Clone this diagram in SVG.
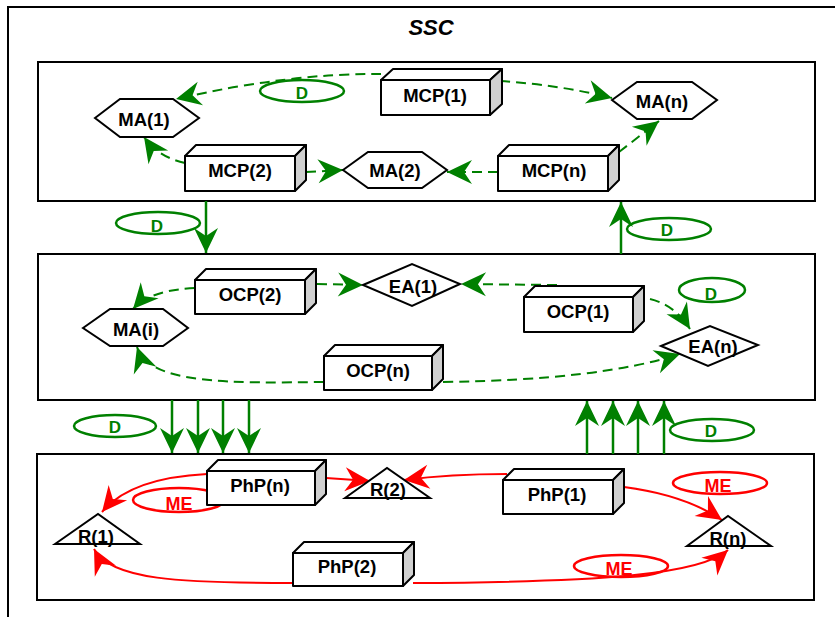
<svg xmlns="http://www.w3.org/2000/svg" width="835" height="617" viewBox="0 0 835 617">
<style>
.frame{fill:none;stroke:#000;stroke-width:2}
.face{fill:#fff;stroke:#000;stroke-width:2;stroke-linejoin:round}
.side{fill:#d0d0d0;stroke:#000;stroke-width:2;stroke-linejoin:round}
.shape{fill:#fff;stroke:#000;stroke-width:2}
.lbl{font-family:"Liberation Sans",Arial,sans-serif;font-weight:bold;font-size:18.5px;fill:#000;text-anchor:middle}
.gd{fill:none;stroke:#008000;stroke-width:2;stroke-dasharray:10 6}
.gs{fill:none;stroke:#008000;stroke-width:2.5}
.rs{fill:none;stroke:#ff0000;stroke-width:2}
.ge{fill:none;stroke:#008000;stroke-width:2.5}
.re{fill:none;stroke:#ff0000;stroke-width:2.5}
.gt{font-family:"Liberation Sans",Arial,sans-serif;font-weight:bold;font-size:17px;fill:#008000;text-anchor:middle}
.rt{font-family:"Liberation Sans",Arial,sans-serif;font-weight:bold;font-size:18px;fill:#ff0000;text-anchor:middle}
</style>
<defs>
<marker id="ag" viewBox="-27 -14 29 28" refX="0" refY="0" markerWidth="29" markerHeight="28" markerUnits="userSpaceOnUse" orient="auto"><path d="M0,0 L-25,-12 L-17,0 L-25,12 Z" fill="#008000"/></marker>
<marker id="ar" viewBox="-27 -14 29 28" refX="0" refY="0" markerWidth="29" markerHeight="28" markerUnits="userSpaceOnUse" orient="auto"><path d="M0,0 L-25,-12 L-17,0 L-25,12 Z" fill="#ff0000"/></marker>
</defs>
<rect x="0" y="0" width="835" height="617" fill="#fff"/>
<g id="frames">
<rect class="frame" x="8" y="7" width="850" height="620" stroke-width="2.5"/>
<text x="431" y="35" font-family="Liberation Sans,Arial,sans-serif" font-weight="bold" font-style="italic" font-size="22" text-anchor="middle">SSC</text>
<rect class="frame" x="38" y="62" width="777" height="139"/>
<rect class="frame" x="38" y="254" width="777" height="146"/>
<rect class="frame" x="37" y="454" width="777" height="146"/>
</g>
<g id="connectors">
<path class="gd" d="M381,74 Q290,73 176,99" marker-end="url(#ag)"/>
<path class="gd" d="M500,81 Q560,85 612,98" marker-end="url(#ag)"/>
<path class="gd" d="M185,163 Q158,157 144,137" marker-end="url(#ag)"/>
<path class="gd" d="M306,172 L343,170" marker-end="url(#ag)"/>
<path class="gd" d="M498,172 L447,172" marker-end="url(#ag)"/>
<path class="gd" d="M619,152 L659,121" marker-end="url(#ag)"/>
<path class="gs" d="M206,201 L206,253" marker-end="url(#ag)"/>
<path class="gs" d="M621,254 L621,202" marker-end="url(#ag)"/>
<path class="gd" d="M195,288 Q150,290 133,309" marker-end="url(#ag)"/>
<path class="gd" d="M317,284 L363,285" marker-end="url(#ag)"/>
<path class="gd" d="M557,285 L461,284" marker-end="url(#ag)"/>
<path class="gd" d="M650,299 Q675,305 690,329" marker-end="url(#ag)"/>
<path class="gd" d="M324,382 C230,383 150,385 137,347" marker-end="url(#ag)"/>
<path class="gd" d="M443,382 Q600,380 680,354" marker-end="url(#ag)"/>
<path class="gs" d="M172,400 L172,453" marker-end="url(#ag)"/>
<path class="gs" d="M198,400 L198,453" marker-end="url(#ag)"/>
<path class="gs" d="M223,400 L223,453" marker-end="url(#ag)"/>
<path class="gs" d="M249,400 L249,453" marker-end="url(#ag)"/>
<path class="gs" d="M587,454 L587,401" marker-end="url(#ag)"/>
<path class="gs" d="M613,454 L613,401" marker-end="url(#ag)"/>
<path class="gs" d="M638,454 L638,401" marker-end="url(#ag)"/>
<path class="gs" d="M664,454 L664,401" marker-end="url(#ag)"/>
<path class="rs" d="M207,474 Q130,478 102,512" marker-end="url(#ar)"/>
<path class="rs" d="M326,478 L370,481" marker-end="url(#ar)"/>
<path class="rs" d="M507,474 Q450,474 404,480" marker-end="url(#ar)"/>
<path class="rs" d="M624,487 Q685,495 722,520" marker-end="url(#ar)"/>
<path class="rs" d="M293,583 C180,583 110,580 94,549" marker-end="url(#ar)"/>
<path class="rs" d="M413,583 C600,582 700,575 728,550" marker-end="url(#ar)"/>
</g>
<g id="labels">
<ellipse class="ge" cx="302" cy="91" rx="42" ry="11"/><text class="gt" x="302" y="99">D</text>
<ellipse class="ge" cx="158" cy="223" rx="42" ry="11"/><text class="gt" x="157" y="232">D</text>
<ellipse class="ge" cx="669" cy="229" rx="42" ry="11"/><text class="gt" x="667" y="236">D</text>
<ellipse class="ge" cx="712" cy="290" rx="33" ry="12"/><text class="gt" x="711" y="300">D</text>
<ellipse class="ge" cx="115" cy="426" rx="41" ry="11"/><text class="gt" x="115" y="433">D</text>
<ellipse class="ge" cx="712" cy="430" rx="42" ry="11"/><text class="gt" x="711" y="437">D</text>
<ellipse class="re" cx="179" cy="500" rx="46" ry="12"/><text class="rt" x="179" y="510">ME</text>
<ellipse class="re" cx="720" cy="483" rx="47" ry="11"/><text class="rt" x="718" y="492">ME</text>
<ellipse class="re" cx="621" cy="566" rx="47" ry="11"/><text class="rt" x="619" y="575">ME</text>
</g>
<g id="MCP1"><path class="face" d="M381,80 L393,69 L502,69 L490,80 Z"/><path class="side" d="M490,80 L502,69 L502,104 L490,115 Z"/><rect class="face" x="381" y="80" width="109" height="35"/><text class="lbl" x="435" y="102">MCP(1)</text></g>
<g id="MCP2"><path class="face" d="M185,156 L196,145 L306,145 L295,156 Z"/><path class="side" d="M295,156 L306,145 L306,180 L295,191 Z"/><rect class="face" x="185" y="156" width="110" height="35"/><text class="lbl" x="240" y="177">MCP(2)</text></g>
<g id="MCPn"><path class="face" d="M498,156 L509,145 L619,145 L608,156 Z"/><path class="side" d="M608,156 L619,145 L619,180 L608,191 Z"/><rect class="face" x="498" y="156" width="110" height="35"/><text class="lbl" x="554" y="177">MCP(n)</text></g>
<g id="MA1"><polygon class="shape" points="95,118 120,99 173,99 199,118 173,137 120,137"/><text class="lbl" x="144" y="126">MA(1)</text></g>
<g id="MA2"><polygon class="shape" points="343,170 368,152 422,152 447,170 422,188 368,188"/><text class="lbl" x="395" y="177">MA(2)</text></g>
<g id="MAn"><polygon class="shape" points="612,100 637,82 692,82 717,100 692,119 637,119"/><text class="lbl" x="662" y="108">MA(n)</text></g>
<g id="OCP2"><path class="face" d="M195,280 L206,269 L316,269 L305,280 Z"/><path class="side" d="M305,280 L316,269 L316,303 L305,314 Z"/><rect class="face" x="195" y="280" width="110" height="34"/><text class="lbl" x="250" y="301">OCP(2)</text></g>
<g id="OCP1"><path class="face" d="M524,297 L535,286 L644,286 L633,297 Z"/><path class="side" d="M633,297 L644,286 L644,321 L633,332 Z"/><rect class="face" x="524" y="297" width="109" height="35"/><text class="lbl" x="578" y="318">OCP(1)</text></g>
<g id="OCPn"><path class="face" d="M324,356 L335,345 L443,345 L432,356 Z"/><path class="side" d="M432,356 L443,345 L443,379 L432,390 Z"/><rect class="face" x="324" y="356" width="108" height="34"/><text class="lbl" x="378" y="377">OCP(n)</text></g>
<g id="EA1"><polygon class="shape" points="363,285 412,264 460,284 412,306"/><text class="lbl" x="413" y="293">EA(1)</text></g>
<g id="EAn"><polygon class="shape" points="661,346 710,326 758,345 708,366"/><text class="lbl" x="713" y="353">EA(n)</text></g>
<g id="MAi"><polygon class="shape" points="83,328 110,309 163,309 188,328 163,346 110,346"/><text class="lbl" x="136" y="336">MA(i)</text></g>
<g id="PhPn"><path class="face" d="M207,471 L218,460 L326,460 L315,471 Z"/><path class="side" d="M315,471 L326,460 L326,494 L315,505 Z"/><rect class="face" x="207" y="471" width="108" height="34"/><text class="lbl" x="260" y="492">PhP(n)</text></g>
<g id="PhP1"><path class="face" d="M503,480 L514,469 L624,469 L613,480 Z"/><path class="side" d="M613,480 L624,469 L624,503 L613,514 Z"/><rect class="face" x="503" y="480" width="110" height="34"/><text class="lbl" x="557" y="501">PhP(1)</text></g>
<g id="PhP2"><path class="face" d="M293,553 L304,542 L414,542 L403,553 Z"/><path class="side" d="M403,553 L414,542 L414,575 L403,586 Z"/><rect class="face" x="293" y="553" width="110" height="33"/><text class="lbl" x="347" y="573">PhP(2)</text></g>
<g id="R1"><polygon class="shape" points="55,544 98,514 140,544"/><text class="lbl" x="96" y="543" font-size="17">R(1)</text></g>
<g id="R2"><polygon class="shape" points="345,498 387,468 430,498"/><text class="lbl" x="388" y="496" font-size="17">R(2)</text></g>
<g id="Rn"><polygon class="shape" points="687,546 728,516 771,546"/><text class="lbl" x="728" y="545" font-size="17">R(n)</text></g>
</svg>
